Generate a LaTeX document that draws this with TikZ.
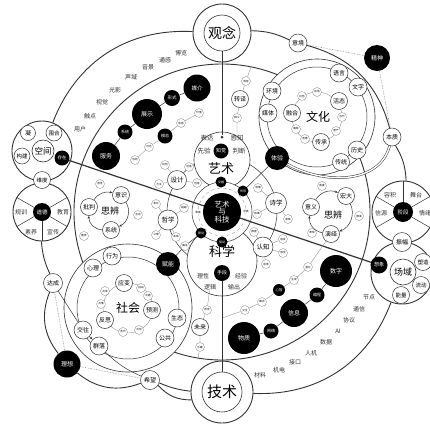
\documentclass[tikz,border=0pt]{standalone}
\usepackage{fontspec}
\setmainfont{Noto Sans CJK SC}
\usetikzlibrary{arrows.meta}
\definecolor{ink}{HTML}{333333}
\definecolor{faint}{HTML}{8C8C8C}
\newcommand{\fsz}[1]{\fontsize{#1}{#1}\selectfont}
\tikzset{
  ring/.style={draw=ink, line width=0.9pt},
  link/.style={draw=ink, line width=0.5pt},
  hairline/.style={draw=faint, line width=0.35pt},
  hub/.style={circle, draw=ink, line width=0.9pt, fill=white, inner sep=0pt},
  disc/.style={circle, draw=ink, line width=0.6pt, fill=white, inner sep=0pt},
  topic/.style={circle, draw=ink, line width=0.5pt, fill=white, inner sep=0pt, minimum size=18pt, font=\fsz{6}},
  leaf/.style={circle, draw=faint, line width=0.35pt, fill=white, inner sep=0pt, minimum size=9pt, font=\fsz{2.6}},
  dark/.style={circle, fill=black, text=white, inner sep=0pt, font=\fsz{5}},
  word/.style={inner sep=0.5pt, font=\fsz{6}, text=ink},
  cycle arrow/.style={link, -{Stealth[length=3pt]}},
}
\begin{document}
\begin{tikzpicture}[x=1pt, y=-1pt]
  \fill[white] (0,0) rectangle (430,424);
  \useasboundingbox (0,0) rectangle (430,424);

  % rings round the centre
  \draw[ring] (222,212) circle[radius=148];
  \draw[link] (222,212) circle[radius=55];

  % culture circle
  \node[disc, minimum size=116pt] (wenhua) at (317,117) {};
  \draw[link] (317,117) circle[radius=50];
  \draw[hairline] (317,117) circle[radius=25];
  \node[font=\fsz{12}] (wenhuat) at (318,117) {文化};

  % society circle
  \node[disc, minimum size=128pt] (shehui) at (128,308) {};
  \draw[link] (128,308) circle[radius=51];
  \draw[hairline] (128,308) circle[radius=25];
  \node[font=\fsz{12}] (shehuit) at (128,308) {社会};

  % art and science
  \node[disc, minimum size=56pt] (yishu) at (222,160) {};
  \node[disc, minimum size=70pt] (kexue) at (222,261) {};
  \draw[link, fill=white] (222,212) circle[radius=30];
  \draw[hairline, dashed] (222,212) circle[radius=24];

  % hubs on the outer ring
  \node[hub, minimum size=58pt] (guannian) at (222,33) {};
  \node[disc, minimum size=36pt, font=\fsz{14}] (guannianin) at (222,33) {观念};
  \node[hub, minimum size=62pt] (jishu) at (222,392) {};
  \node[disc, minimum size=40pt, font=\fsz{15}] (jishuin) at (222,392) {技术};

  \node[hub, minimum size=60pt] (kongjian) at (42,151) {};
  \node[disc, minimum size=22pt, font=\fsz{8.5}] (kongjianin) at (43,151) {空间};
  \node[topic, minimum size=15pt] (ning) at (28,133) {凝};
  \node[topic, minimum size=16pt, font=\fsz{5.5}] (weihe) at (54,133) {围合};
  \node[topic, minimum size=16pt, font=\fsz{5.5}] (goujian) at (22,156) {构建};
  \node[dark, minimum size=15pt, font=\fsz{4.5}] (cunzai) at (62,158) {存在};

  \node[hub, minimum size=58pt] (lunli) at (42,212) {};
  \node[dark, minimum size=18pt, font=\fsz{5.5}] (daode) at (42,212) {道德};
  \foreach \a in {30,150,210,270,330} \draw[link] (daode.\a) -- (lunli.\a);
  \node[word] (guixun) at (21,212) {规训};
  \node[word] (jiaoyu) at (63,212) {教育};
  \node[word] (suyang) at (31,232) {素养};
  \node[word] (xuanchuan) at (53,232) {宣传};
  \node[topic, minimum size=17pt, font=\fsz{5.5}] (weidu) at (42,180) {维度};

  \node[hub, minimum size=62pt] (jieduan) at (403,212) {};
  \node[dark, minimum size=20pt, font=\fsz{5.5}] (jieduanin) at (403,212) {阶段};
  \foreach \a in {30,90,150,210,330} \draw[link] (jieduanin.\a) -- (jieduan.\a);
  \node[word] (rongji) at (390,195) {容积};
  \node[word] (wutai) at (416,195) {舞台};
  \node[word] (xinyuan) at (381,213) {信源};
  \node[word] (qingxu) at (425,213) {情绪};

  \node[hub, minimum size=62pt] (changyu) at (402,273) {};
  \node[disc, minimum size=26pt, font=\fsz{9}] (changyuin) at (403,272) {场域};
  \node[dark, minimum size=17pt, font=\fsz{5}] (xiangxiang) at (379,265) {想象};
  \node[topic, minimum size=17pt, font=\fsz{5.5}] (suzao) at (423,262) {塑造};
  \node[topic, minimum size=17pt, font=\fsz{5.5}] (liudong) at (421,285) {流动};
  \node[topic, minimum size=17pt, font=\fsz{5.5}] (nengliang) at (401,295) {能量};
  \node[topic, minimum size=19pt] (zhenfu) at (402,242) {振幅};

  % long axes
  \draw[ink, line width=1.2pt] (cunzai) -- (xiangxiang);

  % small ring nodes
  \node[topic] (yijing) at (298,43) {意境};
  \node[topic] (benzhi) at (392,137) {本质};
  \node[dark, minimum size=26pt, font=\fsz{6}] (jingshen) at (377,58) {精神};
  \node[topic, minimum size=19pt] (dacheng) at (53,283) {达成};
  \node[dark, minimum size=27pt, font=\fsz{6}] (lixiang) at (67,364) {理想};
  \node[topic, minimum size=19pt] (xiwang) at (150,380) {希望};

  % centre
  \node[dark, minimum size=38pt, font=\fsz{7.5}, align=center] (core) at (222,212) {艺术\\与\\科技};
  \node[dark, minimum size=11pt, font=\fsz{3}] (jiaorong) at (221,182) {交融};
  \node[dark, minimum size=11pt, font=\fsz{3}] (chuandao) at (243,191) {传导};
  \node[dark, minimum size=11pt, font=\fsz{3}] (liandong) at (201,233) {联动};
  \node[dark, minimum size=11pt, font=\fsz{3}] (qudong) at (222,242) {驱动};
  \node[font=\fsz{2.6}, fill=white, inner sep=0.3pt] (shenmei) at (198,212) {审美};
  \node[font=\fsz{2.6}, fill=white, inner sep=0.3pt] (qiuzhen) at (246,212) {求真};

  % inside art
  \node[circle, fill=ink, inner sep=0pt, minimum size=3pt] (artdot) at (222,137) {};
  \node[word, font=\fsz{6.5}] (biaoda) at (207,138) {表达};
  \node[word, font=\fsz{6.5}] (ganzhi) at (237,138) {感知};
  \node[word, font=\fsz{6.5}] (xianyan) at (204,151) {先验};
  \node[dark, minimum size=15pt, font=\fsz{5}] (zhijue) at (221,151) {知觉};
  \node[word, font=\fsz{6.5}] (panduan) at (239,151) {判断};
  \node[font=\fsz{13}] (yishut) at (221,169) {艺术};

  % inside science
  \node[font=\fsz{13}] (kexuet) at (222,251) {科学};
  \node[dark, minimum size=16pt, font=\fsz{5}] (shouduan) at (222,273) {手段};
  \node[word] (lixing) at (203,276) {理性};
  \node[word] (jingyan) at (241,276) {经验};
  \node[word] (luoji) at (210,287) {逻辑};
  \node[word] (shuchu) at (234,287) {输出};

  % nodes on the middle ring
  \node[topic, minimum size=19pt, font=\fsz{6.5}] (sheji) at (177,180) {设计};
  \node[topic, minimum size=20pt, font=\fsz{6.5}] (zhexue) at (168,220) {哲学};
  \node[topic, minimum size=21pt, font=\fsz{6.5}] (shixue) at (276,203) {诗学};
  \node[topic, minimum size=20pt, font=\fsz{6.5}] (renzhi) at (263,247) {认知};
  \node[leaf] (jigou) at (165,165) {机构};
  \node[leaf] (chuangzao) at (189,167) {创造};
  \node[leaf] (fangfa) at (159,184) {方法};
  \node[leaf] (chuangyi) at (197,183) {创意};
  \node[leaf] (jinghua) at (156,204) {净化};
  \node[leaf] (chaoyue) at (184,208) {超越};
  \node[leaf] (gongli) at (156,235) {公理};
  \node[leaf] (benti) at (176,237) {本体};
  \node[leaf] (ganqing) at (258,188) {感情};
  \node[leaf] (xushi) at (257,214) {叙事};
  \node[leaf] (yixiang) at (288,219) {意象};
  \node[leaf] (tuili) at (254,232) {推理};
  \node[leaf] (ganshou) at (283,239) {感受};
  \node[leaf] (ganjue) at (283,253) {感觉};
  \node[leaf] (yujing) at (266,264) {语境};
  \foreach \s in {jigou,chuangzao,fangfa,chuangyi} \draw[hairline] (sheji) -- (\s);
  \foreach \s in {jinghua,chaoyue,gongli,benti} \draw[hairline] (zhexue) -- (\s);
  \foreach \s in {ganqing,xushi,yixiang} \draw[hairline] (shixue) -- (\s);
  \foreach \s in {tuili,ganshou,ganjue,yujing} \draw[hairline] (renzhi) -- (\s);

  % culture nodes
  \node[topic] (huanjing) at (272,91) {环境};
  \node[topic] (meiti) at (268,113) {媒体};
  \node[topic] (yuyan) at (339,73) {语言};
  \node[topic] (wenzi) at (358,87) {文字};
  \node[topic] (lishi) at (357,150) {历史};
  \node[topic, minimum size=17pt] (chuantong) at (341,162) {传统};
  \node[topic, minimum size=17pt] (ronghe) at (292,113) {融合};
  \node[topic, minimum size=17pt] (huotai) at (339,101) {活态};
  \node[topic, minimum size=17pt] (chuancheng) at (321,142) {传承};
  \node[leaf] (hongse) at (302,96) {红色};
  \node[leaf] (minsu) at (317,92) {民俗};
  \node[leaf] (dangdai) at (342,117) {当代};
  \node[leaf] (yichan) at (336,131) {遗产};
  \node[leaf] (puhui) at (305,139) {普惠};
  \node[leaf] (bozhong) at (296,129) {播种};
  \node[dark, minimum size=24pt, font=\fsz{6}] (tiyan) at (277,158) {体验};

  % society nodes
  \node[topic] (xingwei) at (112,256) {行为};
  \node[topic] (xinli) at (93,268) {心理};
  \node[topic] (jiaowang) at (83,330) {交往};
  \node[topic] (qunluo) at (99,346) {群落};
  \node[topic] (gonggong) at (165,338) {公共};
  \node[topic] (shengtai) at (177,318) {生态};
  \node[topic, minimum size=17pt] (yingbian) at (124,283) {应变};
  \node[topic, minimum size=17pt] (yuce) at (152,310) {预测};
  \node[topic, minimum size=17pt] (fansi) at (105,320) {反思};
  \node[leaf] (gongxiang) at (105,291) {共享};
  \node[leaf] (gongqing) at (101,304) {共情};
  \node[leaf] (tiaozhan) at (141,288) {挑战};
  \node[leaf] (wenti) at (148,296) {问题};
  \node[leaf] (diedai) at (123,332) {迭代};
  \node[leaf] (gongchuang) at (139,330) {共创};
  \node[dark, minimum size=24pt, font=\fsz{6}] (funeng) at (168,264) {赋能};
  \node[leaf] (quezheng) at (185,246) {确证};

  % thinking, left
  \node[font=\fsz{9}] (sibianL) at (110,211) {思辨};
  \node[topic, minimum size=17pt] (pipan) at (89,207) {批判};
  \node[topic, minimum size=17pt] (yishi) at (121,195) {意识};
  \node[topic, minimum size=17pt] (xitong) at (111,230) {系统};
  \node[leaf] (ganxing) at (100,184) {感性};
  \node[leaf] (hudong) at (138,215) {互动};
  \node[leaf] (zhengti) at (84,236) {整体};
  \draw[cycle arrow] (pipan) to[bend left=35] (yishi);
  \draw[cycle arrow] (yishi) to[bend left=50] (xitong);
  \draw[cycle arrow] (xitong) to[bend left=45] (pipan);

  % thinking, right
  \node[font=\fsz{9}] (sibianR) at (333,215) {思辨};
  \node[topic, minimum size=17pt] (yiyi) at (311,207) {意义};
  \node[topic, minimum size=17pt] (hongda) at (346,196) {宏大};
  \node[topic, minimum size=17pt] (yanyi) at (331,234) {演绎};
  \node[leaf] (jiaodu) at (322,186) {角度};
  \node[leaf] (tuiyan) at (359,216) {推演};
  \node[leaf] (biaoxian) at (312,233) {表现};
  \draw[cycle arrow] (yiyi) to[bend left=40] (hongda);
  \draw[cycle arrow] (hongda) to[bend left=50] (yanyi);
  \draw[cycle arrow] (yanyi) to[bend left=45] (yiyi);

  % upper left chains
  \node[dark, minimum size=27pt, font=\fsz{5.5}] (meijie) at (197,88) {媒介};
  \node[dark, minimum size=16pt, font=\fsz{4.5}] (xingshi) at (172,98) {形式};
  \node[dark, minimum size=30pt, font=\fsz{6}] (zhanshi) at (147,114) {展示};
  \node[dark, minimum size=15pt, font=\fsz{4}] (xitongD) at (125,132) {系统};
  \node[dark, minimum size=28pt, font=\fsz{6}] (fuwu) at (106,156) {服务};
  \draw[link] (fuwu) -- (xitongD) -- (zhanshi) -- (xingshi) -- (meijie);
  \node[leaf] (xietong) at (135,160) {协同};
  \node[leaf] (keda) at (149,147) {可达};
  \node[dark, minimum size=15pt, font=\fsz{4}] (motai) at (165,136) {模态};
  \node[leaf] (tigan) at (181,123) {体感};
  \node[leaf] (jiazhi) at (199,113) {价值};
  \draw[hairline] (xietong) -- (keda) -- (motai) -- (tigan) -- (jiazhi);

  % branch to the art circle
  \coordinate (ringtop) at (251,67);
  \node[leaf] (ganguan) at (246,81) {感官};
  \node[topic, minimum size=17pt] (zhuanyi) at (240,99) {转译};
  \node[leaf] (shiyi) at (237,118) {释义};
  \draw[hairline] (ringtop) -- (ganguan) -- (zhuanyi) -- (shiyi) -- (ganzhi);

  % branch below science
  \node[leaf] (yuanjing) at (207,310) {愿景};
  \node[topic, minimum size=17pt] (weilai) at (200,327) {未来};
  \node[leaf] (lequ) at (200,347) {乐趣};
  \coordinate (ringlow) at (198,358);
  \draw[hairline] (luoji) -- (yuanjing) -- (weilai) -- (lequ) -- (ringlow);

  % lower right chains
  \coordinate (axis) at (222,318);
  \node[leaf] (jiaohu) at (245,310) {交互};
  \node[leaf] (moshi) at (262,302) {模式};
  \node[dark, minimum size=12pt, font=\fsz{3.5}] (xinzhi) at (279,290) {心智};
  \node[leaf] (shengcheng) at (294,280) {生成};
  \node[leaf] (yanhua) at (308,267) {演化};
  \draw[hairline] (axis) -- (jiaohu) -- (moshi) -- (xinzhi) -- (shengcheng) -- (yanhua) -- (yanyi);
  \node[dark, minimum size=32pt, font=\fsz{6}] (wuzhi) at (244,338) {物质};
  \node[dark, minimum size=15pt, font=\fsz{4}] (wangluo) at (271,331) {网络};
  \node[dark, minimum size=28pt, font=\fsz{6}] (xinxi) at (294,313) {信息};
  \node[dark, minimum size=15pt, font=\fsz{4}] (biancheng) at (317,295) {编程};
  \node[dark, minimum size=32pt, font=\fsz{6}] (shuzi) at (336,271) {数字};
  \draw[link] (wuzhi) -- (wangluo) -- (xinxi) -- (biancheng) -- (shuzi);

  % words between the rings
  \foreach \t/\x/\y [count=\i] in {博览/181/53, 通感/165/60, 音景/148/67, 声域/131/77, 光影/115/90, 视觉/102/102, 触点/90/116, 用户/80/129}
    \node[word] (upper\i) at (\x,\y) {\t};
  \foreach \t/\x/\y [count=\i] in {材料/260/375, 机电/279/370, 接口/295/362, 人机/311/353, 数据/326/342, AI/338/331, 协议/349/320, 通信/359/309, 节点/369/297}
    \node[word] (lower\i) at (\x,\y) {\t};

  % axes
  \draw[ink, line width=0.8pt] (guannianin) -- (artdot);
  \draw[ink, line width=0.8pt] (jishuin) -- (shouduan);

  % links in the middle
  \draw[link] (tiyan) -- (chuandao);
  \draw[link] (funeng) -- (quezheng) -- (liandong);
  \draw[ink, line width=0.5pt, double, double distance=1.4pt] (tiyan) to[out=-30, in=-105] (benzhi);
  \draw[link] (dacheng) -- (jiaowang);
  \draw[link, -{Stealth[length=3pt]}] (jiaowang) -- (qunluo);
  \draw[link] (qunluo) to[bend right=10] (xiwang);

  % outer ring
  \draw[ring] (guannian) to[bend left=12] (yijing);
  \draw[ring] (yijing) to[bend left=30] (benzhi);
  \draw[ring] (benzhi) to[bend left=14] (jieduan);
  \draw[ring] (changyu) to[bend left=36] (jishu);
  \draw[ring] (jishu) to[bend left=8] (xiwang);
  \draw[ring] (jishu) to[bend left=24] (xiwang);
  \draw[ring] (xiwang) to[bend left=30] (lixiang);
  \draw[ring] (lixiang) to[bend left=30] (dacheng);
  \draw[ring] (dacheng) to[bend left=10] (lunli);
  \draw[ring] (kongjian) to[bend left=36] (guannian);
  \draw[faint, densely dotted, line width=0.6pt] (yijing) -- (jingshen) -- (benzhi);
  \draw[faint, densely dotted, line width=0.6pt] (dacheng) -- (lixiang) -- (xiwang);
\end{tikzpicture}
\end{document}
